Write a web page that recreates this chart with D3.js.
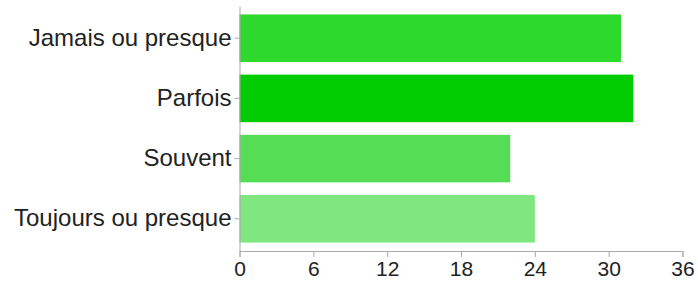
<!DOCTYPE html>
<html>
<head>
<meta charset="utf-8">
<script src="https://cdn.jsdelivr.net/npm/d3@7"></script>
<style>
  body { margin: 0; background: #fff; }
  .axis text { font-family: "Liberation Sans", Arial, sans-serif; fill: #222; }
  .axis path, .axis line { stroke: #aaa; }
</style>
</head>
<body>
<div id="chart"></div>
<script>
const categories = ['Jamais ou presque', 'Parfois', 'Souvent', 'Toujours ou presque'];
const counts = [31, 32, 22, 24];
const barColors = ['#2dd92d', '#00cc00', '#55dd55', '#80e680'];
const xTicks = [0, 6, 12, 18, 24, 30, 36];

const width = 698, height = 281;
const margin = { top: 6, right: 15.5, bottom: 30, left: 239.5 };
const innerW = width - margin.left - margin.right;
const innerH = height - margin.top - margin.bottom;

const svg = d3.select('#chart').append('svg')
  .attr('width', width)
  .attr('height', height);

const plot = svg.append('g')
  .attr('transform', `translate(${margin.left}, ${margin.top})`);

const xScale = d3.scaleLinear().domain([0, 36]).range([0, innerW]);
const yScale = d3.scaleBand().domain(categories).range([0, innerH])
  .paddingInner(0.21).paddingOuter(0.14);

plot.selectAll('rect')
  .data(categories).enter()
  .append('rect')
  .attr('x', 0)
  .attr('y', d => yScale(d))
  .attr('width', (d, i) => xScale(counts[i]))
  .attr('height', yScale.bandwidth())
  .attr('fill', (d, i) => barColors[i]);

const xAxis = d3.axisBottom(xScale).tickValues(xTicks).tickSize(6).tickPadding(4).tickSizeOuter(6);
const yAxis = d3.axisLeft(yScale).tickSize(5).tickPadding(3).tickSizeOuter(0);

const gx = plot.append('g')
  .attr('class', 'axis')
  .attr('transform', `translate(0, ${innerH})`)
  .call(xAxis);
gx.selectAll('text').style('font-size', '21px');

const gy = plot.append('g')
  .attr('class', 'axis')
  .call(yAxis);
gy.selectAll('text').style('font-size', '24px');
</script>
</body>
</html>
